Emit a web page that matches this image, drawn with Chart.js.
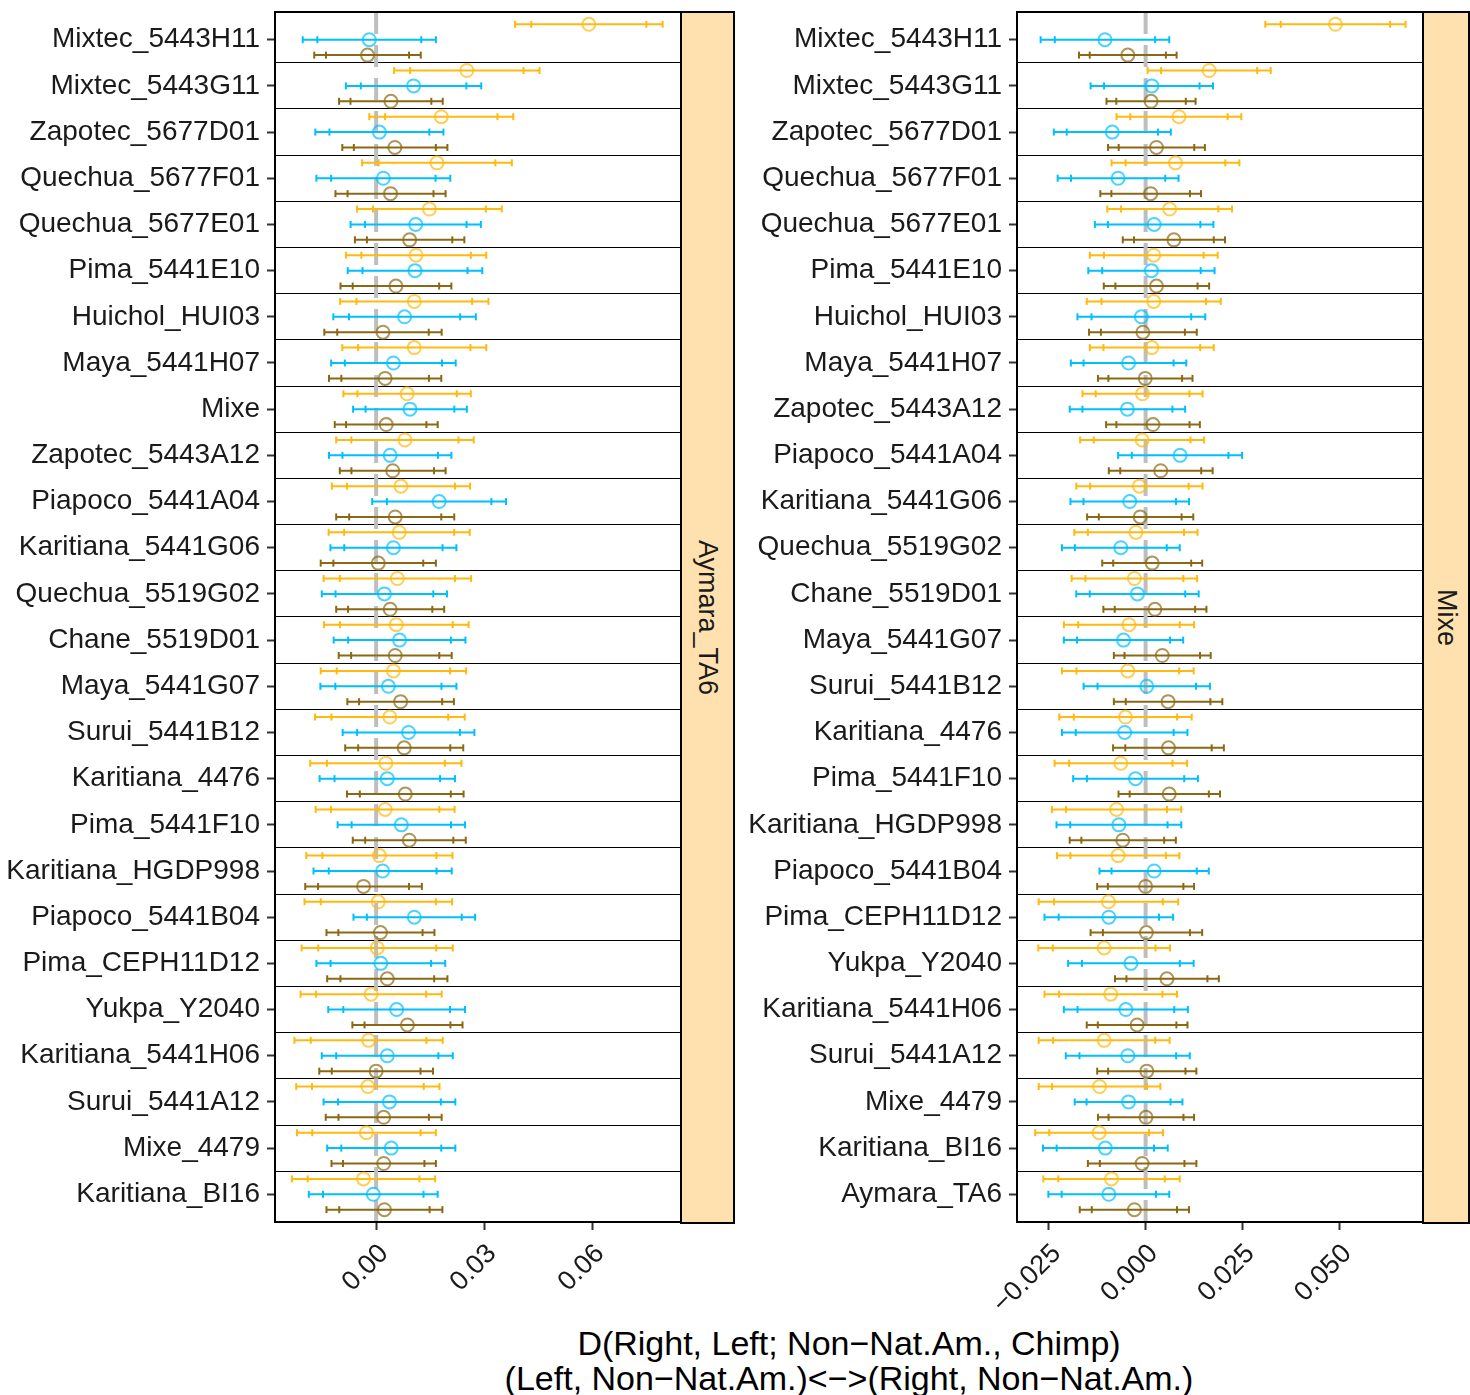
<!DOCTYPE html>
<html>
<head>
<meta charset="utf-8">
<script src="https://cdn.jsdelivr.net/npm/chart.js@4.4.1/dist/chart.umd.min.js"></script>
<style>
    body { margin: 0; background: #fff; overflow: hidden; }
    #wrap { position: relative; width: 1470px; height: 1395px; font-family: 'Liberation Sans', Arial, Helvetica, sans-serif; }
    canvas { position: absolute; top: 0; }
    .strip {
        position: absolute; box-sizing: border-box; border: 2px solid #000;
        background: #fee1af; color: #1a1a1a; font-size: 27px;
        display: flex; align-items: center; justify-content: center;
        writing-mode: vertical-rl;
    }
    #xtitle { position: absolute; left: 349px; top: 1326px; width: 1000px; text-align: center; font-size: 34px; line-height: 35px; color: #000; }
</style>
</head>
<body>
<div id="wrap">
    <canvas id="left-chart" width="682" height="1310" style="left:0"></canvas>
    <div class="strip" style="left:680px;top:11px;width:55px;height:1213px">Aymara_TA6</div>
    <canvas id="right-chart" width="682" height="1310" style="left:742px"></canvas>
    <div class="strip" style="left:1422px;top:11px;width:48px;height:1213px">Mixe</div>
    <div id="xtitle">D(Right, Left; Non−Nat.Am., Chimp)<br>(Left, Non−Nat.Am.)&lt;−&gt;(Right, Non−Nat.Am.)</div>
</div>
<script>
// ---- left panel (Aymara_TA6) ----
const leftLabels = ['Mixtec_5443H11', 'Mixtec_5443G11', 'Zapotec_5677D01', 'Quechua_5677F01', 'Quechua_5677E01',
    'Pima_5441E10', 'Huichol_HUI03', 'Maya_5441H07', 'Mixe', 'Zapotec_5443A12', 'Piapoco_5441A04',
    'Karitiana_5441G06', 'Quechua_5519G02', 'Chane_5519D01', 'Maya_5441G07', 'Surui_5441B12', 'Karitiana_4476',
    'Pima_5441F10', 'Karitiana_HGDP998', 'Piapoco_5441B04', 'Pima_CEPH11D12', 'Yukpa_Y2040', 'Karitiana_5441H06',
    'Surui_5441A12', 'Mixe_4479', 'Karitiana_BI16'];
const leftOrange = [0.0591, 0.0252, 0.0181, 0.0169, 0.0148, 0.0111, 0.0106, 0.0106, 0.0086, 0.0080, 0.0069, 0.0064, 0.0059,
    0.0056, 0.0048, 0.0038, 0.0027, 0.0025, 0.0009, 0.0006, 0.0003, -0.0014, -0.0021, -0.0023, -0.0027, -0.0035];
const leftOrangeErr = [0.0205, 0.0202, 0.0200, 0.0208, 0.0201, 0.0195, 0.0206, 0.0200, 0.0177, 0.0191, 0.0192, 0.0196, 0.0205,
    0.0201, 0.0202, 0.0208, 0.0210, 0.0193, 0.0203, 0.0205, 0.0210, 0.0196, 0.0206, 0.0199, 0.0193, 0.0199];
const leftBlue = [-0.0019, 0.0104, 0.0009, 0.0020, 0.0110, 0.0108, 0.0079, 0.0048, 0.0094, 0.0039, 0.0175, 0.0048, 0.0023,
    0.0065, 0.0034, 0.0090, 0.0031, 0.0070, 0.0018, 0.0106, 0.0013, 0.0057, 0.0031, 0.0037, 0.0042, -0.0008];
const leftBlueErr = [0.0185, 0.0188, 0.0178, 0.0186, 0.0181, 0.0187, 0.0198, 0.0173, 0.0158, 0.0170, 0.0186, 0.0175, 0.0174,
    0.0183, 0.0189, 0.0183, 0.0188, 0.0177, 0.0192, 0.0169, 0.0179, 0.0190, 0.0182, 0.0183, 0.0178, 0.0179];
const leftBrown = [-0.0024, 0.0041, 0.0052, 0.0040, 0.0093, 0.0055, 0.0019, 0.0025, 0.0028, 0.0046, 0.0053, 0.0006, 0.0039,
    0.0053, 0.0068, 0.0078, 0.0081, 0.0092, -0.0035, 0.0012, 0.0031, 0.0087, 0.0000, 0.0021, 0.0021, 0.0023];
const leftBrownErr = [0.0148, 0.0144, 0.0146, 0.0153, 0.0152, 0.0154, 0.0163, 0.0156, 0.0143, 0.0147, 0.0164, 0.0160, 0.0150,
    0.0157, 0.0148, 0.0164, 0.0162, 0.0157, 0.0162, 0.0150, 0.0167, 0.0153, 0.0158, 0.0161, 0.0145, 0.0161];
const leftTicks = [0, 0.03, 0.06];
const leftTickLabels = ['0.00', '0.03', '0.06'];

// ---- right panel (Mixe) ----
const rightLabels = ['Mixtec_5443H11', 'Mixtec_5443G11', 'Zapotec_5677D01', 'Quechua_5677F01', 'Quechua_5677E01',
    'Pima_5441E10', 'Huichol_HUI03', 'Maya_5441H07', 'Zapotec_5443A12', 'Piapoco_5441A04', 'Karitiana_5441G06',
    'Quechua_5519G02', 'Chane_5519D01', 'Maya_5441G07', 'Surui_5441B12', 'Karitiana_4476', 'Pima_5441F10',
    'Karitiana_HGDP998', 'Piapoco_5441B04', 'Pima_CEPH11D12', 'Yukpa_Y2040', 'Karitiana_5441H06', 'Surui_5441A12',
    'Mixe_4479', 'Karitiana_BI16', 'Aymara_TA6'];
const rightOrange = [0.0490, 0.0164, 0.0086, 0.0077, 0.0062, 0.0021, 0.0021, 0.0016, -0.0008, -0.0009, -0.0016, -0.0025, -0.0029,
    -0.0043, -0.0046, -0.0052, -0.0064, -0.0075, -0.0071, -0.0096, -0.0107, -0.0090, -0.0107, -0.0119, -0.0120, -0.0088];
const rightOrangeErr = [0.0181, 0.0159, 0.0161, 0.0165, 0.0161, 0.0165, 0.0173, 0.0160, 0.0155, 0.0160, 0.0163, 0.0159, 0.0162,
    0.0168, 0.0170, 0.0171, 0.0171, 0.0167, 0.0158, 0.0180, 0.0170, 0.0171, 0.0169, 0.0157, 0.0165, 0.0176];
const rightBlue = [-0.0105, 0.0016, -0.0086, -0.0071, 0.0022, 0.0015, -0.0011, -0.0044, -0.0047, 0.0089, -0.0041, -0.0064, -0.0021,
    -0.0057, 0.0003, -0.0054, -0.0026, -0.0069, 0.0022, -0.0095, -0.0038, -0.0051, -0.0046, -0.0044, -0.0104, -0.0095];
const rightBlueErr = [0.0166, 0.0158, 0.0151, 0.0156, 0.0153, 0.0163, 0.0165, 0.0149, 0.0149, 0.0160, 0.0153, 0.0152, 0.0158,
    0.0154, 0.0163, 0.0162, 0.0161, 0.0161, 0.0141, 0.0166, 0.0162, 0.0160, 0.0160, 0.0139, 0.0161, 0.0156];
const rightBrown = [-0.0046, 0.0014, 0.0028, 0.0013, 0.0073, 0.0028, -0.0007, -0.0001, 0.0019, 0.0039, -0.0014, 0.0017, 0.0024,
    0.0043, 0.0058, 0.0059, 0.0061, -0.0059, 0.0000, 0.0002, 0.0055, -0.0022, 0.0003, 0.0001, -0.0009, -0.0029];
const rightBrownErr = [0.0126, 0.0115, 0.0125, 0.0130, 0.0132, 0.0136, 0.0139, 0.0122, 0.0121, 0.0134, 0.0137, 0.0129, 0.0133,
    0.0125, 0.0140, 0.0143, 0.0131, 0.0137, 0.0125, 0.0144, 0.0134, 0.0130, 0.0128, 0.0124, 0.0140, 0.0141];
const rightTicks = [-0.025, 0, 0.025, 0.05];
const rightTickLabels = ['−0.025', '0.000', '0.025', '0.050'];

const FONT = "'Liberation Sans', Arial, Helvetica, sans-serif";
const INNER = 0.78; // inner tick marks sit at this fraction of the outer whisker

// colour of the line / colour of the open circle
const ORANGE = ['#ffb90f', 'rgba(255,185,15,0.7)'];
const BLUE = ['#00bfff', 'rgba(0,191,255,0.7)'];
const BROWN = ['#8b6914', 'rgba(139,105,20,0.7)'];

// outline around the plotting panel
const framePlugin = {
    id: 'frame',
    afterDatasetsDraw(chart) {
        const { ctx, chartArea: a } = chart;
        ctx.save();
        ctx.strokeStyle = '#000';
        ctx.lineWidth = 2;
        ctx.strokeRect(a.left, a.top, a.right - a.left, a.bottom - a.top);
        ctx.restore();
    }
};

function errorSets(values, errs, offset, colors) {
    const bar = [], inner = [], mid = [];
    values.forEach((v, i) => {
        const y = i + offset;
        const e = errs[i];
        bar.push({ x: v - e, y }, { x: v + e, y }, { x: v, y: null });
        inner.push({ x: v - e * INNER, y }, { x: v + e * INNER, y });
        mid.push({ x: v, y });
    });
    return [
        { data: mid, showLine: false, pointStyle: 'circle', pointRadius: 6.5, pointBorderWidth: 2,
          pointBorderColor: colors[1], pointBackgroundColor: 'rgba(0,0,0,0)' },
        { data: inner, showLine: false, pointStyle: 'line', pointRotation: 90, pointRadius: 3.5,
          pointBorderWidth: 2, pointBorderColor: colors[0] },
        { data: bar, showLine: true, spanGaps: false, fill: false, borderColor: colors[0], borderWidth: 2,
          pointStyle: 'line', pointRotation: 90, pointRadius: 3.5, pointBorderWidth: 2, pointBorderColor: colors[0] }
    ];
}

function renderPanel(id, p) {
    const n = p.labels.length;
    // discrete axis keeps 0.6 of a row free at both ends
    const yMin = -0.6, yMax = n - 0.4;
    const datasets = [
        ...errorSets(p.orange, p.orangeErr, -1 / 3, ORANGE),
        ...errorSets(p.blue, p.blueErr, 0, BLUE),
        ...errorSets(p.brown, p.brownErr, 1 / 3, BROWN),
        // dashed zero line, last so it is drawn underneath
        { data: [{ x: 0, y: yMin }, { x: 0, y: yMax }], showLine: true, borderColor: '#bebebe',
          borderWidth: 4, borderDash: [22, 11], pointRadius: 0 }
    ];

    return new Chart(document.getElementById(id), {
        type: 'scatter',
        data: { datasets },
        options: {
            responsive: false,
            animation: false,
            events: [],
            layout: { autoPadding: false, padding: { top: 12, right: 1, left: 0, bottom: 0 } },
            plugins: { legend: { display: false }, tooltip: { enabled: false } },
            scales: {
                x: {
                    type: 'linear', min: p.min, max: p.max,
                    afterBuildTicks: s => { s.ticks = p.ticks.map(v => ({ value: v })); },
                    ticks: {
                        callback: (v, i) => p.tickLabels[i],
                        minRotation: 45, maxRotation: 45, autoSkip: false, padding: 8, labelOffset: 8,
                        color: '#1a1a1a', font: { family: FONT, size: 27 }
                    },
                    grid: { drawOnChartArea: false, tickLength: 8, tickColor: '#333', tickWidth: 2 },
                    border: { display: false },
                    afterFit: s => { s.height = 88; s.paddingLeft = 0; s.paddingRight = 0; }
                },
                y: {
                    type: 'linear', reverse: true, min: yMin, max: yMax,
                    afterBuildTicks: s => { s.ticks = p.labels.map((_, i) => ({ value: i })); },
                    ticks: {
                        callback: v => p.labels[v], autoSkip: false, padding: 7,
                        color: '#1a1a1a', font: { family: FONT, size: 28 }
                    },
                    grid: { drawOnChartArea: false, tickLength: 8, tickColor: '#333', tickWidth: 2 },
                    border: { display: false },
                    afterFit: s => { s.width = 275; s.paddingTop = 0; s.paddingBottom = 0; }
                },
                // row separators only
                rows: {
                    type: 'linear', position: 'right', reverse: true, min: yMin, max: yMax,
                    afterBuildTicks: s => { s.ticks = p.labels.slice(1).map((_, i) => ({ value: i + 0.5 })); },
                    ticks: { display: false },
                    grid: { drawTicks: false, color: '#000', lineWidth: 1 },
                    border: { display: false },
                    afterFit: s => { s.width = 0; s.paddingTop = 0; s.paddingBottom = 0; }
                }
            }
        },
        plugins: [framePlugin]
    });
}

renderPanel('left-chart', {
    labels: leftLabels, min: -0.0281, max: 0.0847, ticks: leftTicks, tickLabels: leftTickLabels,
    orange: leftOrange, orangeErr: leftOrangeErr, blue: leftBlue, blueErr: leftBlueErr,
    brown: leftBrown, brownErr: leftBrownErr
});
renderPanel('right-chart', {
    labels: rightLabels, min: -0.0332, max: 0.0716, ticks: rightTicks, tickLabels: rightTickLabels,
    orange: rightOrange, orangeErr: rightOrangeErr, blue: rightBlue, blueErr: rightBlueErr,
    brown: rightBrown, brownErr: rightBrownErr
});
</script>
</body>
</html>
